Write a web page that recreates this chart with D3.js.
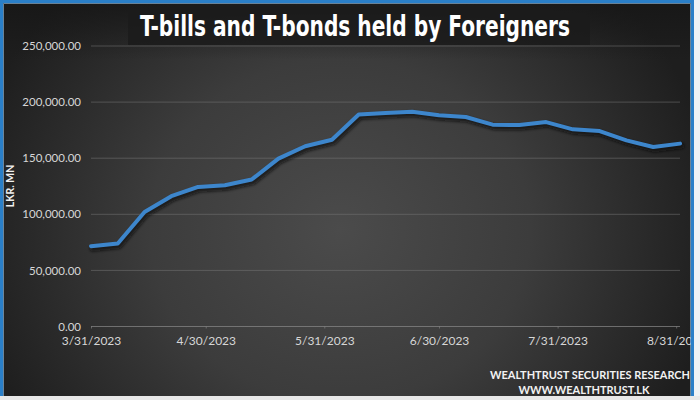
<!DOCTYPE html>
<html>
<head>
<meta charset="utf-8">
<script src="https://cdn.jsdelivr.net/npm/d3@7/dist/d3.min.js"></script>
<style>
html,body{margin:0;padding:0;background:#fff;}
svg{display:block;}
</style>
</head>
<body>
<svg id="chart" width="700" height="400"></svg>
<script>
// ---- data ----
const weekDates = ["2023-03-31","2023-04-07","2023-04-14","2023-04-21","2023-04-28","2023-05-05","2023-05-12","2023-05-19","2023-05-26","2023-06-02","2023-06-09","2023-06-16","2023-06-23","2023-06-30","2023-07-07","2023-07-14","2023-07-21","2023-07-28","2023-08-04","2023-08-11","2023-08-18","2023-08-25","2023-09-01"];
const holdings = [71600,74000,102100,116100,124400,125900,131000,149600,160600,166500,189000,190200,191400,188200,186700,179900,179500,182200,175700,174200,165900,160000,163000];
const xTickDates = ["2023-03-31","2023-04-30","2023-05-31","2023-06-30","2023-07-31","2023-08-31"];
const yTicks = [0,50000,100000,150000,200000,250000];
const titleText = "T-bills and T-bonds held by Foreigners";
const yAxisTitle = "LKR. MN";
const footer = ["WEALTHTRUST SECURITIES RESEARCH","WWW.WEALTHTRUST.LK"];

const parse = d3.timeParse("%Y-%m-%d");
const data = weekDates.map((d,i)=>({date:parse(d), value:holdings[i]}));

const W=700,H=400;
const svg=d3.select("#chart");
const defs=svg.append("defs");

const bg=defs.append("radialGradient").attr("id","bg")
  .attr("gradientUnits","userSpaceOnUse").attr("cx",340).attr("cy",230).attr("r",380)
  .attr("gradientTransform","translate(340,230) scale(1,0.9) translate(-340,-230)");
bg.append("stop").attr("offset","0%").attr("stop-color","#4b4b4b");
bg.append("stop").attr("offset","50%").attr("stop-color","#3c3c3c");
bg.append("stop").attr("offset","100%").attr("stop-color","#1e1e1e");

const topShade=defs.append("linearGradient").attr("id","topShade").attr("x1",0).attr("y1",0).attr("x2",0).attr("y2",1);
topShade.append("stop").attr("offset","0%").attr("stop-color","#161616").attr("stop-opacity",0.85);
topShade.append("stop").attr("offset","100%").attr("stop-color","#161616").attr("stop-opacity",0);

const shadowF=defs.append("filter").attr("id","blur").attr("x","-5%").attr("y","-20%").attr("width","110%").attr("height","140%");
shadowF.append("feGaussianBlur").attr("stdDeviation",1.6);

svg.append("rect").attr("width",W).attr("height",H).attr("fill","url(#bg)");
svg.append("rect").attr("x",0).attr("y",0).attr("width",W).attr("height",60).attr("fill","url(#topShade)");

// title box
svg.append("rect").attr("x",128).attr("y",6).attr("width",462).attr("height",39).attr("fill","#1b1b1b").attr("opacity",0.85);
svg.append("text").attr("x",355).attr("y",36).attr("text-anchor","middle")
  .attr("font-family","'Liberation Sans Narrow','DejaVu Sans Condensed',Roboto,sans-serif")
  .attr("font-weight","bold").attr("font-size",28).attr("fill","#ffffff")
  .attr("textLength",430).attr("lengthAdjust","spacingAndGlyphs")
  .text(titleText);

// scales
const x=d3.scaleTime().domain([parse("2023-03-31"),parse("2023-09-01")]).range([91,680]);
const y=d3.scaleLinear().domain([0,250000]).range([326.5,46]);

// grid
svg.append("g").selectAll("line").data(yTicks).join("line")
  .attr("x1",91).attr("x2",680).attr("y1",d=>y(d)).attr("y2",d=>y(d))
  .attr("stroke",d=>d===0?"#8a8a8a":"#7a7a7a").attr("stroke-opacity",d=>d===0?0.7:0.5).attr("stroke-width",1);

// y axis
const yAxis=d3.axisLeft(y).tickValues(yTicks).tickFormat(d3.format(",.2f")).tickSize(0).tickPadding(0);
const gy=svg.append("g").attr("transform","translate(81,0)").call(yAxis);
gy.select(".domain").remove();
gy.selectAll("text").attr("font-family","Lato,'Open Sans',sans-serif").attr("font-size",11.5).attr("fill","#d6d6d6");

// x axis
const xAxis=d3.axisBottom(x).tickValues(xTickDates.map(parse)).tickFormat(d3.timeFormat("%-m/%-d/%Y")).tickSize(2).tickPadding(8);
const gx=svg.append("g").attr("transform","translate(0,326.5)").call(xAxis);
gx.select(".domain").remove();
gx.selectAll("line").attr("stroke","#8a8a8a").attr("stroke-opacity",0.6);
gx.selectAll("text").attr("font-family","Lato,'Open Sans',sans-serif").attr("font-size",12).attr("fill","#d6d6d6");

// y axis title
svg.append("text").attr("transform","translate(14,186) rotate(-90)").attr("text-anchor","middle")
  .attr("font-family","Lato,'Open Sans',sans-serif").attr("font-weight","bold").attr("font-size",10.5).attr("fill","#f0f0f0")
  .text(yAxisTitle);

// line
const line=d3.line().x(d=>x(d.date)).y(d=>y(d.value));
svg.append("path").datum(data).attr("d",line).attr("fill","none")
  .attr("stroke","#0c0c0c").attr("stroke-opacity",0.75).attr("stroke-width",5.5)
  .attr("stroke-linejoin","round").attr("stroke-linecap","round")
  .attr("transform","translate(1.5,2.5)").attr("filter","url(#blur)");
svg.append("path").datum(data).attr("d",line).attr("fill","none")
  .attr("stroke","#3d86cc").attr("stroke-width",4)
  .attr("stroke-linejoin","round").attr("stroke-linecap","round");

// footer
svg.append("text").attr("x",690).attr("y",379).attr("text-anchor","end")
  .attr("font-family","Lato,'Open Sans',sans-serif").attr("font-weight","bold").attr("font-size",11).attr("fill","#f2f2f2")
  .attr("textLength",200).attr("lengthAdjust","spacingAndGlyphs")
  .text(footer[0]);
svg.append("text").attr("x",584).attr("y",394).attr("text-anchor","middle")
  .attr("font-family","Lato,'Open Sans',sans-serif").attr("font-weight","bold").attr("font-size",11).attr("fill","#f2f2f2")
  .text(footer[1]);

// frame
svg.append("rect").attr("x",693).attr("y",0).attr("width",7).attr("height",H).attr("fill","#eef2f5");
svg.append("rect").attr("x",0).attr("y",396).attr("width",W).attr("height",4).attr("fill","#e8e8e8");
svg.append("path").attr("d","M1.5,396 V1.5 H692.5 V396").attr("fill","none").attr("stroke","#2a7fc8").attr("stroke-width",3);
svg.append("path").attr("d","M3.5,396 V3.5 H690.5 V396").attr("fill","none").attr("stroke","#9fc8ea").attr("stroke-width",1).attr("stroke-opacity",0.6);
</script>
</body>
</html>
